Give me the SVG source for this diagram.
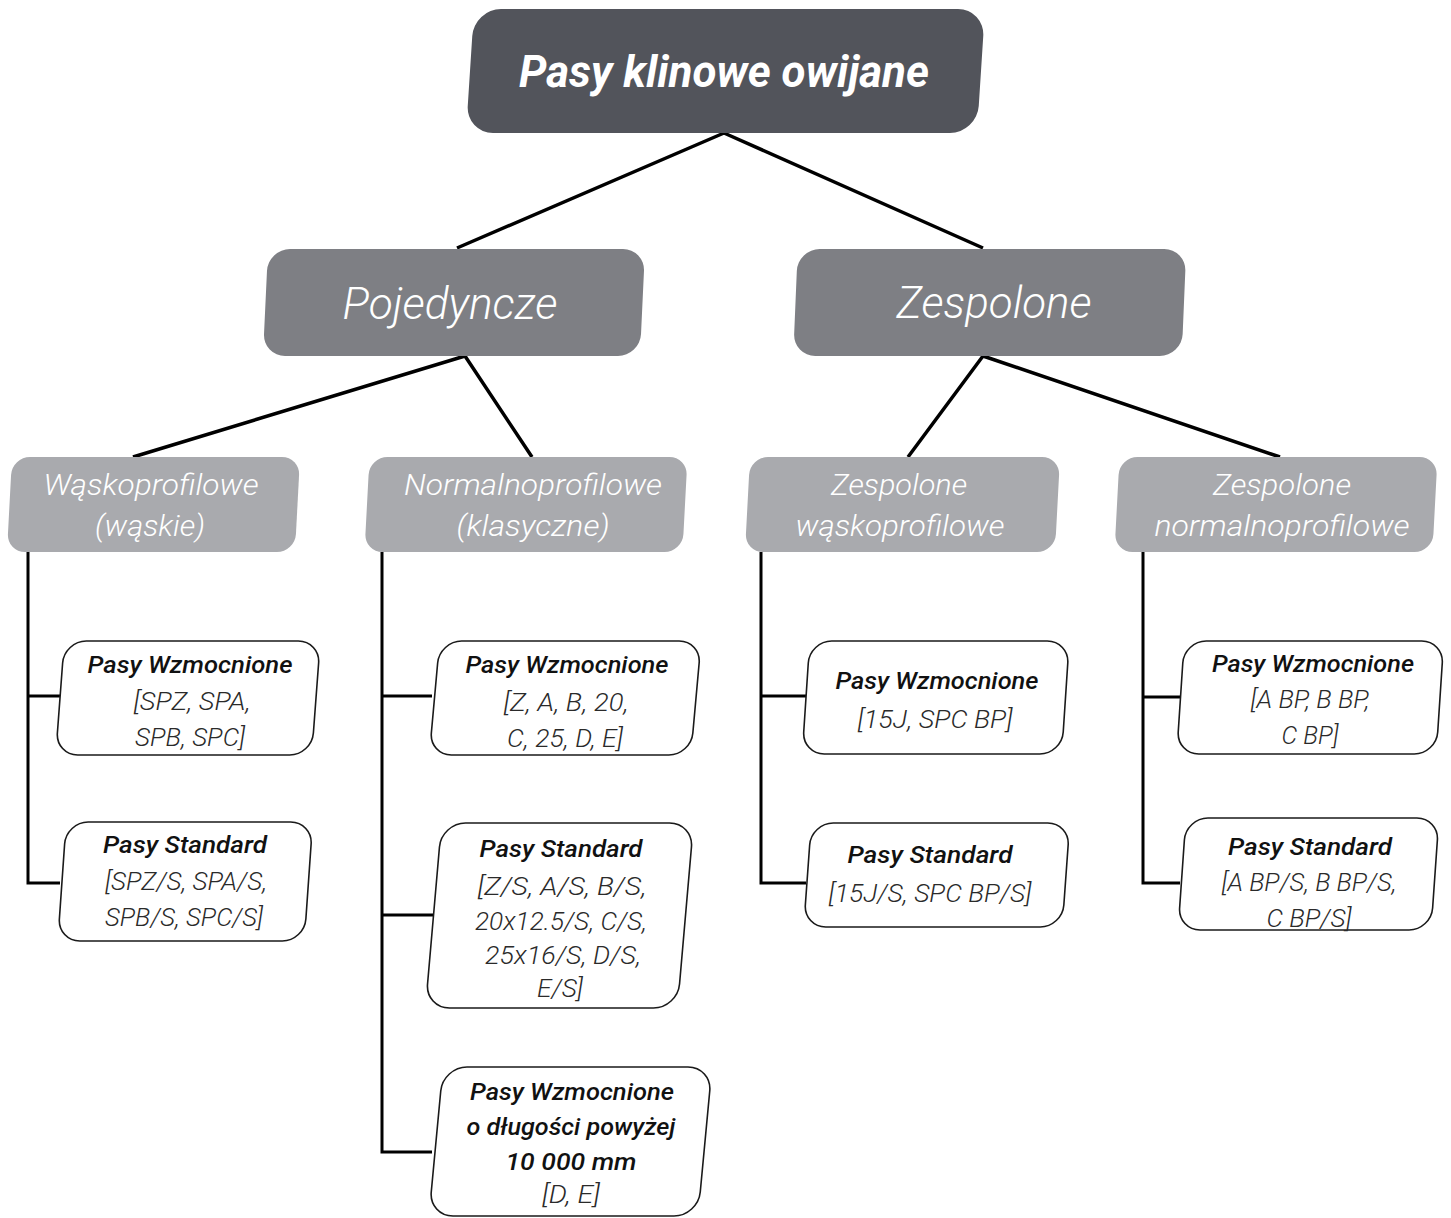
<svg xmlns="http://www.w3.org/2000/svg" width="1451" height="1218" viewBox="0 0 1451 1218">
<style>
.n1{fill:#52545b}
.n2{fill:#7e7f84}
.n3{fill:#a9aaae}
.leaf{fill:#fff;stroke:#1a1a1a;stroke-width:1.6}
.conn{stroke:#000;stroke-width:3.5;fill:none;stroke-linecap:butt}
.tree{stroke:#000;stroke-width:3;fill:none}
text{font-family:Roboto,"Liberation Sans",sans-serif;font-style:italic;text-anchor:middle}
.tTop{font-weight:700;font-size:45px;fill:#fff}
.tL2{font-weight:300;font-size:45px;fill:#fff}
.tL3{font-weight:300;font-size:30px;fill:#fff}
.tLt{font-weight:500;font-size:24px;fill:#111}
.tLb{font-weight:300;font-size:26.5px;fill:#2a2a2a}
</style>
<g id="connectors">
<path class="conn" d="M724,133 L457,248 M724,133 L983,248 M465,356 L133,457 M465,356 L532,457 M983,356 L908,457 M983,356 L1280,457"/>
<path class="tree" d="M28,551 V883 H60 M28,696 H60"/>
<path class="tree" d="M382,552 V1152 H432 M382,696 H432 M382,915 H433"/>
<path class="tree" d="M761,552 V883 H806 M761,696 H806"/>
<path class="tree" d="M1143,552 V883 H1180 M1143,697 H1180"/>
</g>
<g id="root">
<rect class="n1" x="470" y="9" width="511" height="124" rx="27" transform="matrix(1,0,-0.0645,1,4.58,0)"/>
<text class="tTop" x="724" y="87" textLength="410" lengthAdjust="spacingAndGlyphs">Pasy klinowe owijane</text>
</g>
<g id="pojedyncze">
<rect class="n2" x="265.5" y="249" width="377" height="107" rx="22" transform="matrix(1,0,-0.047,1,14.22,0)"/>
<text class="tL2" x="450" y="319" textLength="215" lengthAdjust="spacingAndGlyphs">Pojedyncze</text>
</g>
<g id="zespolone">
<rect class="n2" x="795.5" y="249" width="388.5" height="107" rx="22" transform="matrix(1,0,-0.042,1,12.7,0)"/>
<text class="tL2" x="994" y="318" textLength="195" lengthAdjust="spacingAndGlyphs">Zespolone</text>
</g>
<g id="waskoprofilowe">
<rect class="n3" x="9.5" y="457" width="288" height="95" rx="18" transform="matrix(1,0,-0.053,1,26.74,0)"/>
<text class="tL3" x="151" y="495" textLength="215" lengthAdjust="spacingAndGlyphs">Wąskoprofilowe</text>
<text class="tL3" x="150" y="536" textLength="110" lengthAdjust="spacingAndGlyphs">(wąskie)</text>
</g>
<g id="normalnoprofilowe">
<rect class="n3" x="367" y="457" width="318" height="95" rx="18" transform="matrix(1,0,-0.053,1,26.74,0)"/>
<text class="tL3" x="533" y="495" textLength="258" lengthAdjust="spacingAndGlyphs">Normalnoprofilowe</text>
<text class="tL3" x="533" y="536" textLength="153" lengthAdjust="spacingAndGlyphs">(klasyczne)</text>
</g>
<g id="zespolone-wasko">
<rect class="n3" x="747.5" y="457" width="310" height="95" rx="18" transform="matrix(1,0,-0.053,1,26.74,0)"/>
<text class="tL3" x="899" y="495" textLength="136" lengthAdjust="spacingAndGlyphs">Zespolone</text>
<text class="tL3" x="900" y="536" textLength="209" lengthAdjust="spacingAndGlyphs">wąskoprofilowe</text>
</g>
<g id="zespolone-normal">
<rect class="n3" x="1117" y="457" width="318" height="95" rx="18" transform="matrix(1,0,-0.053,1,26.74,0)"/>
<text class="tL3" x="1282" y="495" textLength="138" lengthAdjust="spacingAndGlyphs">Zespolone</text>
<text class="tL3" x="1282" y="536" textLength="255" lengthAdjust="spacingAndGlyphs">normalnoprofilowe</text>
</g>
<g id="w-wzmocnione">
<rect class="leaf" x="60" y="641" width="256" height="114" rx="22" transform="matrix(1,0,-0.075,1,52.35,0)"/>
<text class="tLt" x="190" y="673" textLength="205" lengthAdjust="spacingAndGlyphs">Pasy Wzmocnione</text>
<text class="tLb" x="192" y="710" textLength="117" lengthAdjust="spacingAndGlyphs">[SPZ, SPA,</text>
<text class="tLb" x="190" y="746" textLength="110" lengthAdjust="spacingAndGlyphs">SPB, SPC]</text>
</g>
<g id="w-standard">
<rect class="leaf" x="62" y="822" width="246.5" height="119" rx="22" transform="matrix(1,0,-0.07,1,61.7,0)"/>
<text class="tLt" x="185" y="853" textLength="164" lengthAdjust="spacingAndGlyphs">Pasy Standard</text>
<text class="tLb" x="186" y="890" textLength="162" lengthAdjust="spacingAndGlyphs">[SPZ/S, SPA/S,</text>
<text class="tLb" x="184" y="926" textLength="158" lengthAdjust="spacingAndGlyphs">SPB/S, SPC/S]</text>
</g>
<g id="n-wzmocnione">
<rect class="leaf" x="434.5" y="641" width="261.5" height="114" rx="22" transform="matrix(1,0,-0.09,1,62.82,0)"/>
<text class="tLt" x="567" y="673" textLength="203" lengthAdjust="spacingAndGlyphs">Pasy Wzmocnione</text>
<text class="tLb" x="566" y="711" textLength="125" lengthAdjust="spacingAndGlyphs">[Z, A, B, 20,</text>
<text class="tLb" x="565" y="747" textLength="116" lengthAdjust="spacingAndGlyphs">C, 25, D, E]</text>
</g>
<g id="n-standard">
<rect class="leaf" x="433.5" y="823" width="252" height="185" rx="24" transform="matrix(1,0,-0.087,1,79.65,0)"/>
<text class="tLt" x="561" y="857" textLength="163" lengthAdjust="spacingAndGlyphs">Pasy Standard</text>
<text class="tLb" x="562" y="895" textLength="169" lengthAdjust="spacingAndGlyphs">[Z/S, A/S, B/S,</text>
<text class="tLb" x="561" y="930" textLength="172" lengthAdjust="spacingAndGlyphs">20x12.5/S, C/S,</text>
<text class="tLb" x="563" y="964" textLength="156" lengthAdjust="spacingAndGlyphs">25x16/S, D/S,</text>
<text class="tLb" x="560" y="997" textLength="46" lengthAdjust="spacingAndGlyphs">E/S]</text>
</g>
<g id="n-wzmocnione-10000">
<rect class="leaf" x="436" y="1067" width="269" height="149" rx="24" transform="matrix(1,0,-0.094,1,107.3,0)"/>
<text class="tLt" x="572" y="1100" textLength="204" lengthAdjust="spacingAndGlyphs">Pasy Wzmocnione</text>
<text class="tLt" x="571" y="1135" textLength="209" lengthAdjust="spacingAndGlyphs">o długości powyżej</text>
<text class="tLt" x="571" y="1170" textLength="131" lengthAdjust="spacingAndGlyphs">10 000 mm</text>
<text class="tLb" x="571" y="1203" textLength="58" lengthAdjust="spacingAndGlyphs">[D, E]</text>
</g>
<g id="zw-wzmocnione">
<rect class="leaf" x="806" y="641" width="259.5" height="113" rx="22" transform="matrix(1,0,-0.066,1,46.04,0)"/>
<text class="tLt" x="937" y="689" textLength="203" lengthAdjust="spacingAndGlyphs">Pasy Wzmocnione</text>
<text class="tLb" x="935" y="728" textLength="155" lengthAdjust="spacingAndGlyphs">[15J, SPC BP]</text>
</g>
<g id="zw-standard">
<rect class="leaf" x="807.5" y="823" width="258.5" height="104" rx="22" transform="matrix(1,0,-0.072,1,63,0)"/>
<text class="tLt" x="930" y="863" textLength="165" lengthAdjust="spacingAndGlyphs">Pasy Standard</text>
<text class="tLb" x="930" y="902" textLength="203" lengthAdjust="spacingAndGlyphs">[15J/S, SPC BP/S]</text>
</g>
<g id="zn-wzmocnione">
<rect class="leaf" x="1180.5" y="641" width="259.5" height="113" rx="22" transform="matrix(1,0,-0.066,1,46.04,0)"/>
<text class="tLt" x="1313" y="672" textLength="202" lengthAdjust="spacingAndGlyphs">Pasy Wzmocnione</text>
<text class="tLb" x="1310" y="708" textLength="119" lengthAdjust="spacingAndGlyphs">[A BP, B BP,</text>
<text class="tLb" x="1310" y="744" textLength="57" lengthAdjust="spacingAndGlyphs">C BP]</text>
</g>
<g id="zn-standard">
<rect class="leaf" x="1182" y="818" width="253" height="112" rx="22" transform="matrix(1,0,-0.07,1,61.18,0)"/>
<text class="tLt" x="1310" y="855" textLength="164" lengthAdjust="spacingAndGlyphs">Pasy Standard</text>
<text class="tLb" x="1309" y="891" textLength="175" lengthAdjust="spacingAndGlyphs">[A BP/S, B BP/S,</text>
<text class="tLb" x="1309" y="927" textLength="85" lengthAdjust="spacingAndGlyphs">C BP/S]</text>
</g>
</svg>
